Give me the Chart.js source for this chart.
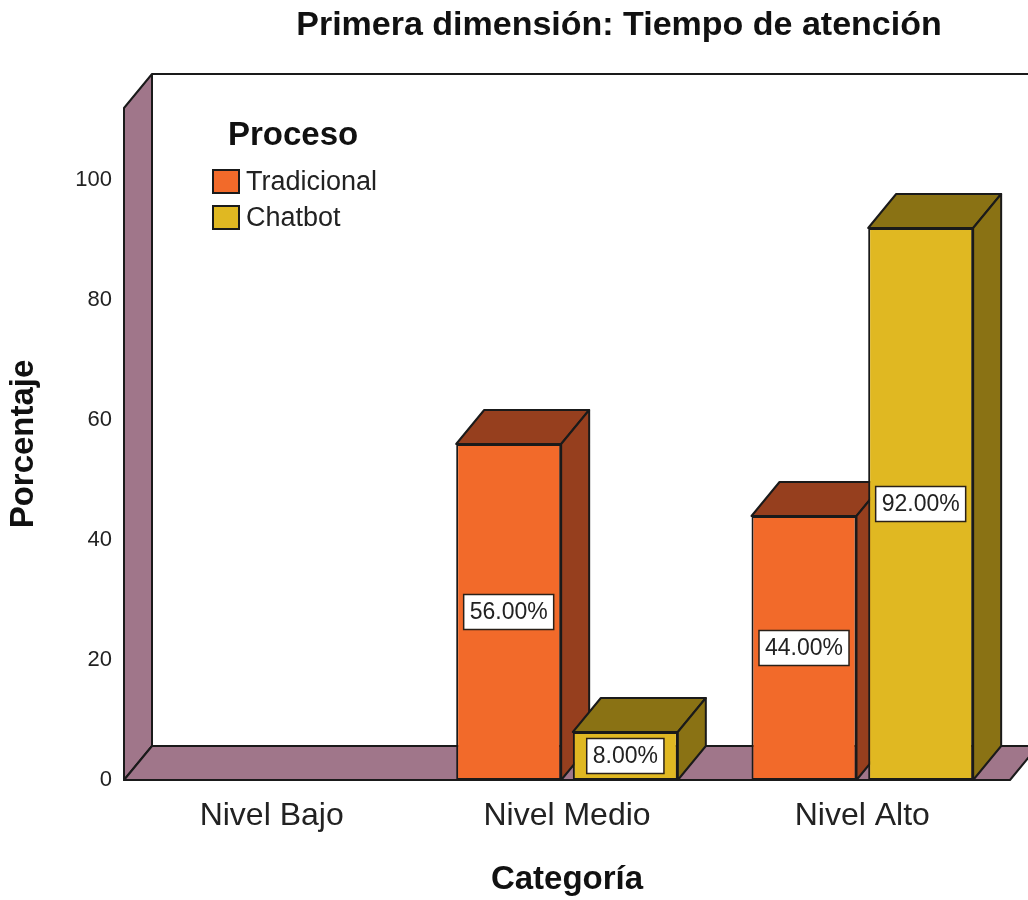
<!DOCTYPE html>
<html>
<head>
<meta charset="utf-8">
<script src="https://cdn.jsdelivr.net/npm/chart.js@4.4.0/dist/chart.umd.min.js"></script>
<style>
  body { margin: 0; background: #fff; }
  #wrap { width: 1028px; height: 900px; }
</style>
</head>
<body>
<div id="wrap"><canvas id="chart"></canvas></div>
<script>
const categories = ['Nivel Bajo', 'Nivel Medio', 'Nivel Alto'];
const seriesNames = ['Tradicional', 'Chatbot'];
const tradicional = [0, 56, 44];
const chatbot = [0, 8, 92];
const yTicks = [0, 20, 40, 60, 80, 100];

const frontColors = ['#f26a2a', '#e0b822'];
const darkColors = ['#963f1e', '#8a7214'];
const wallColor = '#a0768a';
const lineColor = '#1a1a1a';
// 3D depth offset
const DX = 28, DY = -34;

Chart.defaults.font.family = '"Liberation Sans", Arial, sans-serif';

function poly(ctx, pts, fill) {
  ctx.beginPath();
  ctx.moveTo(pts[0][0], pts[0][1]);
  for (let i = 1; i < pts.length; i++) ctx.lineTo(pts[i][0], pts[i][1]);
  ctx.closePath();
  ctx.fillStyle = fill;
  ctx.fill();
  ctx.stroke();
}

const box3d = {
  id: 'box3d',
  beforeDatasetsDraw(chart) {
    const ctx = chart.ctx;
    const ca = chart.chartArea;
    ctx.save();
    ctx.lineWidth = 2;
    ctx.strokeStyle = lineColor;
    ctx.lineJoin = 'round';
    // back plane top edge
    ctx.beginPath();
    ctx.moveTo(ca.left + DX, ca.top + DY);
    ctx.lineTo(ca.right + DX + 20, ca.top + DY);
    ctx.stroke();
    // left wall and floor
    poly(ctx, [[ca.left, ca.top], [ca.left + DX, ca.top + DY], [ca.left + DX, ca.bottom + DY], [ca.left, ca.bottom]], wallColor);
    poly(ctx, [[ca.left, ca.bottom], [ca.right, ca.bottom], [ca.right + DX, ca.bottom + DY], [ca.left + DX, ca.bottom + DY]], wallColor);
    // bar tops and sides
    categories.forEach((c, i) => {
      chart.data.datasets.forEach((ds, d) => {
        if (!ds.data[i]) return;
        const el = chart.getDatasetMeta(d).data[i];
        const { x, y, base, width } = el.getProps(['x', 'y', 'base', 'width'], true);
        const l = x - width / 2, r = x + width / 2;
        poly(ctx, [[l, y], [r, y], [r + DX, y + DY], [l + DX, y + DY]], darkColors[d]);
        poly(ctx, [[r, y], [r + DX, y + DY], [r + DX, base + DY], [r, base]], darkColors[d]);
      });
    });
    ctx.restore();
  },
  afterDatasetsDraw(chart) {
    const ctx = chart.ctx;
    ctx.save();
    ctx.font = '23px "Liberation Sans", Arial, sans-serif';
    ctx.textAlign = 'center';
    ctx.textBaseline = 'middle';
    chart.data.datasets.forEach((ds, d) => {
      chart.getDatasetMeta(d).data.forEach((el, i) => {
        const v = ds.data[i];
        if (!v) return;
        const { x, y, base } = el.getProps(['x', 'y', 'base'], true);
        const txt = v.toFixed(2) + '%';
        const w = ctx.measureText(txt).width + 12;
        const h = 35;
        const cy = (y + base) / 2;
        ctx.fillStyle = '#fff';
        ctx.strokeStyle = '#2a2018';
        ctx.lineWidth = 1.5;
        ctx.fillRect(x - w / 2, cy - h / 2, w, h);
        ctx.strokeRect(x - w / 2, cy - h / 2, w, h);
        ctx.fillStyle = '#222';
        ctx.fillText(txt, x, cy + 1);
      });
    });
    ctx.restore();
  },
  afterDraw(chart) {
    const ctx = chart.ctx;
    ctx.save();
    // chart title
    ctx.fillStyle = '#111';
    ctx.font = 'bold 34px "Liberation Sans", Arial, sans-serif';
    ctx.textAlign = 'center';
    ctx.textBaseline = 'middle';
    ctx.fillText('Primera dimensión: Tiempo de atención', 619, 26);
    // legend
    ctx.textAlign = 'left';
    ctx.font = 'bold 33px "Liberation Sans", Arial, sans-serif';
    ctx.fillText('Proceso', 228, 136);
    ctx.font = '27px "Liberation Sans", Arial, sans-serif';
    chart.data.datasets.forEach((ds, d) => {
      const top = 170 + d * 36;
      ctx.fillStyle = frontColors[d];
      ctx.strokeStyle = lineColor;
      ctx.lineWidth = 2;
      ctx.fillRect(213, top, 26, 23);
      ctx.strokeRect(213, top, 26, 23);
      ctx.fillStyle = '#222';
      ctx.fillText(ds.label, 246, top + 13);
    });
    ctx.restore();
  }
};

new Chart(document.getElementById('chart'), {
  type: 'bar',
  data: {
    labels: categories,
    datasets: [
      { label: seriesNames[0], data: tradicional, backgroundColor: frontColors[0] },
      { label: seriesNames[1], data: chatbot, backgroundColor: frontColors[1] }
    ]
  },
  options: {
    responsive: true,
    maintainAspectRatio: false,
    animation: false,
    layout: { padding: { top: 108, right: 18, left: 0, bottom: 0 } },
    datasets: {
      bar: {
        categoryPercentage: 0.79,
        barPercentage: 0.9,
        borderColor: lineColor,
        borderWidth: 2,
        borderSkipped: false
      }
    },
    plugins: {
      legend: { display: false },
      tooltip: { enabled: false }
    },
    scales: {
      x: {
        afterFit: s => { s.height = 120; },
        grid: { display: false, drawTicks: false },
        border: { display: false },
        ticks: { font: { size: 32 }, color: '#222', padding: 17 },
        title: { display: true, text: 'Categoría', color: '#111', font: { size: 33, weight: 'bold' }, padding: { top: 0, bottom: 0 } }
      },
      y: {
        min: 0,
        max: 112,
        afterBuildTicks: s => { s.ticks = yTicks.map(v => ({ value: v })); },
        afterFit: s => { s.width = 124; },
        grid: { display: false, drawTicks: false },
        border: { display: false },
        ticks: { font: { size: 22 }, color: '#222', padding: 12 },
        title: { display: true, text: 'Porcentaje', color: '#111', font: { size: 33, weight: 'bold' }, padding: { top: 4, bottom: 0 } }
      }
    }
  },
  plugins: [box3d]
});
</script>
</body>
</html>
